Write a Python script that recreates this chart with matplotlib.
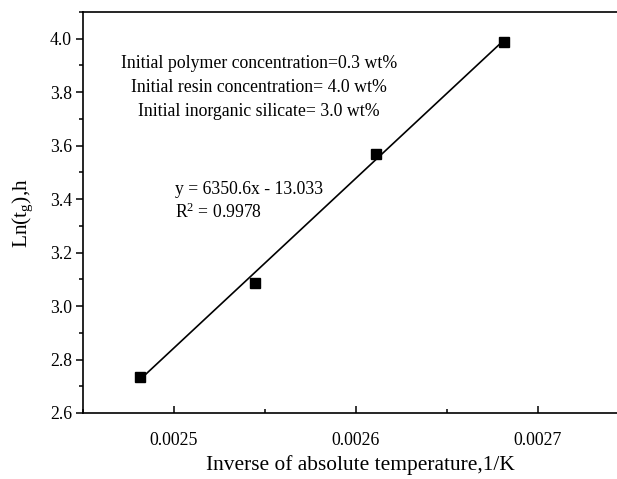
import matplotlib
matplotlib.use("Agg")
import matplotlib.pyplot as plt
from matplotlib.ticker import MultipleLocator
import numpy as np

plt.rcParams['font.family'] = ['Liberation Serif', 'DejaVu Serif']
plt.rcParams['mathtext.fontset'] = 'custom'
plt.rcParams['mathtext.rm'] = 'Liberation Serif'
plt.rcParams['mathtext.it'] = 'Liberation Serif:italic'

# data
inv_temp = [0.0024815, 0.0025444, 0.0026110, 0.0026811]
ln_tg = [2.735, 3.087, 3.569, 3.989]
fit_slope = 6350.6
fit_intercept = -13.033
x_ticks = [0.0025, 0.0026, 0.0027]
x_tick_labels = ["0.0025", "0.0026", "0.0027"]
y_ticks = [2.6, 2.8, 3.0, 3.2, 3.4, 3.6, 3.8, 4.0]
info_lines = ["Initial polymer concentration=0.3 wt%",
              "Initial resin concentration= 4.0 wt%",
              "Initial inorganic silicate= 3.0 wt%"]
eq_lines = ["y = 6350.6x - 13.033", "R$^2$ = 0.9978"]

W, H = 617, 479
fig = plt.figure(figsize=(W / 100, H / 100), dpi=100)
ax = fig.add_axes([83 / W, (H - 413) / H, 546 / W, 401 / H])

ax.plot(inv_temp, ln_tg, linestyle='none', marker='s', color='black',
        markersize=6.5, zorder=3)
xf = np.array([inv_temp[0], inv_temp[-1]])
ax.plot(xf, fit_slope * xf + fit_intercept, color='black', linewidth=1.2, zorder=2)

ax.set_xlim(0.00245, 0.00275)
ax.set_ylim(2.6, 4.1)
ax.set_xticks(x_ticks)
ax.set_xticklabels(x_tick_labels)
ax.set_yticks(y_ticks)
ax.set_yticklabels([f"{v:.1f}" for v in y_ticks])
ax.xaxis.set_minor_locator(MultipleLocator(0.00005))
ax.yaxis.set_minor_locator(MultipleLocator(0.1))

ax.tick_params(axis='x', which='major', direction='in', length=5, width=1.1,
               labelsize=12.8, pad=14)
ax.tick_params(axis='x', which='minor', direction='in', length=3, width=1.1)
ax.tick_params(axis='y', which='major', direction='out', length=5, width=1.1,
               labelsize=12.8, pad=3)
ax.tick_params(axis='y', which='minor', direction='out', length=3, width=1.1)
for s in ax.spines.values():
    s.set_linewidth(1.2)

ax.set_xlabel("Inverse of absolute temperature,1/K", fontsize=15.4)
ax.xaxis.set_label_coords((360 - 83) / 546, (413 - 455) / 401)
ax.set_ylabel(r"Ln(t$_\mathrm{g}$),h", fontsize=15.4)
ax.yaxis.set_label_coords((35 - 83) / 546, (413 - 213) / 401)

for i, line in enumerate(info_lines):
    ax.text((259 - 83) / 546, (413 - (63 + 24 * i)) / 401, line,
            transform=ax.transAxes, ha='center', va='center', fontsize=12.8)

for i, line in enumerate(eq_lines):
    ax.text((175 - 83) / 546, (413 - (189 + 23.5 * i)) / 401, line,
            transform=ax.transAxes, ha='left', va='center', fontsize=12.7)

fig.savefig("out.png", dpi=100)
